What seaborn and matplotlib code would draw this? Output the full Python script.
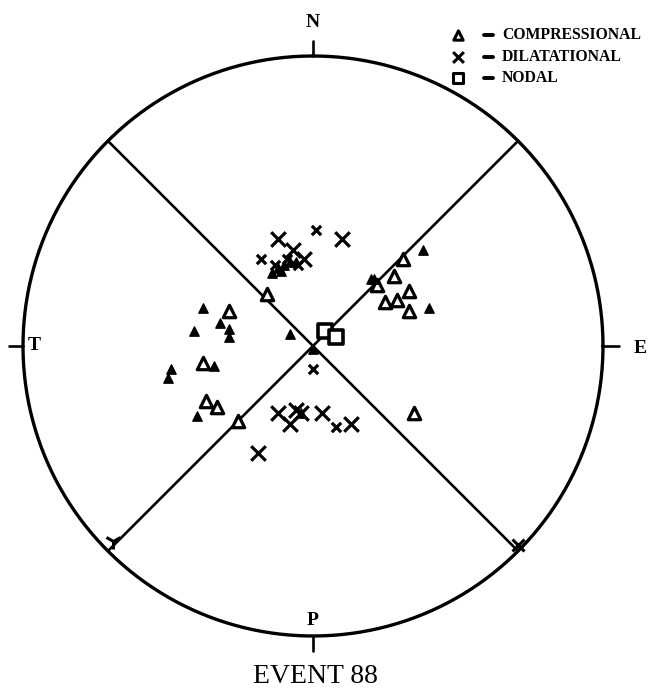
import numpy as np
import matplotlib
matplotlib.use("Agg")
import matplotlib.pyplot as plt
import pandas as pd
import seaborn as sns

# first-motion polarities, projected positions (unit circle = focal sphere)
comp_big_x = [-0.16, -0.29, -0.38, -0.37, -0.33, -0.26, 0.31, 0.22, 0.28, 0.33, 0.25, 0.29, 0.33, 0.35]
comp_big_y = [0.18, 0.12, -0.06, -0.19, -0.21, -0.26, 0.30, 0.21, 0.24, 0.19, 0.15, 0.16, 0.12, -0.23]

comp_small_x = [-0.38, -0.32, -0.29, -0.29, -0.41, -0.34, -0.49, -0.50, -0.40, -0.08, 0.00, 0.38, 0.40,
                0.20, 0.21, -0.14, -0.12, -0.10, -0.08, -0.06, -0.11, -0.04]
comp_small_y = [0.13, 0.08, 0.06, 0.03, 0.05, -0.07, -0.08, -0.11, -0.24, 0.04, -0.01, 0.33, 0.13,
                0.23, 0.23, 0.25, 0.27, 0.28, 0.29, 0.29, 0.26, -0.23]

dil_big_x = [-0.12, 0.10, -0.07, -0.03, -0.12, -0.08, -0.06, -0.04, 0.03, 0.13, -0.19]
dil_big_y = [0.37, 0.37, 0.33, 0.30, -0.23, -0.27, -0.22, -0.23, -0.23, -0.27, -0.37]

dil_small_x = [0.01, 0.00, 0.08, -0.13, -0.09, -0.05, -0.18]
dil_small_y = [0.40, -0.08, -0.28, 0.28, 0.30, 0.28, 0.30]

nodal_x = [0.04, 0.08]
nodal_y = [0.05, 0.03]

# nodal planes (strike azimuths, vertical planes)
plane_strikes = [135, 45]

legend_labels = ["COMPRESSIONAL", "DILATATIONAL", "NODAL"]
axis_labels = ["N", "E", "P", "T"]
title = "EVENT 88"

sns.set_style("white")
plt.rcParams["text.color"] = "black"
fig = plt.figure(figsize=(6.59, 6.93), dpi=100)
ax = fig.add_axes([0, 0, 1, 1])
ax.set_xlim(-1.0793, 1.1931)
ax.set_ylim(-1.1966, 1.1931)
ax.set_aspect("equal")
ax.axis("off")

# outer circle
t = np.linspace(0, 2 * np.pi, 400)
ax.plot(np.cos(t), np.sin(t), color="black", lw=2.4)

# nodal planes
for s in plane_strikes:
    a = np.radians(s)
    ax.plot([-np.sin(a), np.sin(a)], [-np.cos(a), np.cos(a)], color="black", lw=1.9)

# small marks at the lower ends of the planes
ax.plot([-0.69], [-0.672], marker="1", ms=12, mew=2.2, color="black")
ax.plot([0.707], [-0.686], marker="x", ms=8, mew=2.2, color="black")

# compass ticks
ax.plot([0, 0], [1, 1.052], color="black", lw=1.9)
ax.plot([1, 1.055], [0, 0], color="black", lw=1.9)
ax.plot([0, 0], [-1, -1.052], color="black", lw=1.9)
ax.plot([-1, -1.048], [0, 0], color="black", lw=1.9)
lab_font = dict(family=["Liberation Serif", "DejaVu Serif"], fontweight="bold", fontsize=14,
                ha="center", va="center", color="black")
ax.text(0, 1.117, axis_labels[0], **lab_font)
ax.text(1.128, -0.01, axis_labels[1], **lab_font)
ax.text(0, -0.945, axis_labels[2], **lab_font)
ax.text(-0.962, 0.0, axis_labels[3], **lab_font)

def pts(x, y):
    return pd.DataFrame({"x": x, "y": y})

sns.scatterplot(data=pts(comp_big_x, comp_big_y), x="x", y="y", ax=ax, marker="^", s=80,
                facecolor="white", edgecolor="black", linewidth=2.3, zorder=3)
sns.scatterplot(data=pts(comp_small_x, comp_small_y), x="x", y="y", ax=ax, marker="^", s=45,
                color="black", edgecolor="black", linewidth=1, zorder=3)
sns.scatterplot(data=pts(dil_big_x, dil_big_y), x="x", y="y", ax=ax, marker="x", s=110,
                color="black", linewidth=2.3, zorder=3)
sns.scatterplot(data=pts(dil_small_x, dil_small_y), x="x", y="y", ax=ax, marker="x", s=45,
                color="black", linewidth=2.3, zorder=3)
sns.scatterplot(data=pts(nodal_x, nodal_y), x="x", y="y", ax=ax, marker="s", s=90,
                facecolor="white", edgecolor="black", linewidth=2.6, zorder=4)

# legend drawn by hand, plotter style
leg_y = [1.072, 0.997, 0.924]
leg_mk = ["^", "x", "s"]
for yy, mk, lab in zip(leg_y, leg_mk, legend_labels):
    if mk == "x":
        ax.scatter([0.50], [yy], marker=mk, s=60, color="black", linewidths=2.2)
    else:
        ax.scatter([0.50], [yy], marker=mk, s=45, facecolor="white", edgecolors="black", linewidths=2.2)
    ax.plot([0.59, 0.62], [yy, yy], color="black", lw=2.8)
    ax.text(0.652, yy, lab, family=["Liberation Serif", "DejaVu Serif"], fontweight="bold",
            fontsize=11.3, ha="left", va="center", color="black")

ax.text(0.01, -1.14, title, family=["Liberation Serif", "DejaVu Serif"], fontsize=20,
        ha="center", va="center", color="black")

fig.savefig("out.png", dpi=100)
